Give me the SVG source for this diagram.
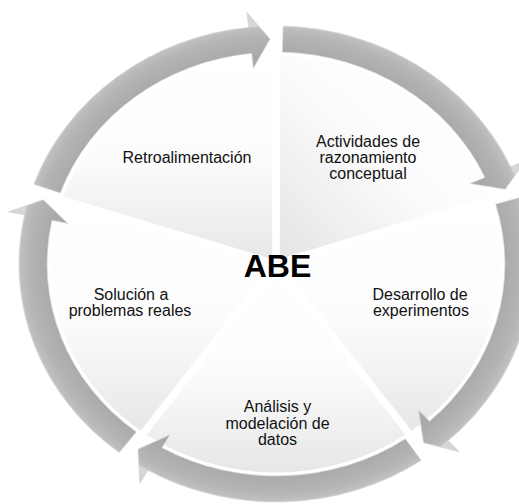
<svg xmlns="http://www.w3.org/2000/svg" xmlns:xlink="http://www.w3.org/1999/xlink" width="519" height="504" viewBox="0 0 519 504">
  <defs>
    <linearGradient id="segV" x1="0" y1="0" x2="0" y2="1">
      <stop offset="0" stop-color="#ffffff"/>
      <stop offset="0.5" stop-color="#fcfcfc"/>
      <stop offset="1" stop-color="#e6e6e6"/>
    </linearGradient>
    <linearGradient id="segD" x1="1" y1="0" x2="0" y2="1">
      <stop offset="0" stop-color="#ffffff"/>
      <stop offset="0.5" stop-color="#fcfcfc"/>
      <stop offset="1" stop-color="#e3e3e3"/>
    </linearGradient>
    <radialGradient id="ringGrad" gradientUnits="userSpaceOnUse" cx="0" cy="0" r="253">
      <stop offset="0.77" stop-color="#a6a6a6"/>
      <stop offset="0.84" stop-color="#ababab"/>
      <stop offset="0.90" stop-color="#b4b4b4"/>
      <stop offset="0.935" stop-color="#bfbfbf"/>
      <stop offset="0.945" stop-color="#d8d8d8"/>
      <stop offset="1" stop-color="#d0d0d0"/>
    </radialGradient>
    <path id="arrow" d="M-224.21,-79.84 A238,238 0 0 1 -25.29,-236.65 L-26.88,-251.57 L-5.50,-224.93 L-20.93,-195.88 L-22.53,-210.80 A212,212 0 0 0 -199.72,-71.12 Z"/>
  </defs>
  <style>
    .seg { stroke: #ffffff; stroke-width: 7; stroke-linejoin: round; }
    .lbl { font-family: "Liberation Sans", Arial, sans-serif; font-size: 16px; fill: #111111; text-anchor: middle; }
    .title { font-family: "Liberation Sans", Arial, sans-serif; font-size: 32px; font-weight: bold; fill: #000000; text-anchor: middle; }
    .arr { fill: url(#ringGrad); stroke: #d4d4d4; stroke-width: 0.6; }
  </style>
  <rect x="0" y="0" width="519" height="504" fill="#ffffff"/>

  <g id="node-actividades">
    <g transform="translate(276,264) scale(1.08,1)">
      <path class="seg" fill="url(#segD)" d="M0,0 L0,-212 A212,212 0 0 1 201.62,-65.51 Z"/>
    </g>
    <text class="lbl"><tspan x="368" y="147">Actividades de</tspan><tspan x="368" y="163">razonamiento</tspan><tspan x="368" y="179">conceptual</tspan></text>
  </g>

  <g id="node-desarrollo">
    <g transform="translate(276,264) scale(1.08,1)">
      <path class="seg" fill="url(#segV)" d="M0,0 L201.62,-65.51 A212,212 0 0 1 124.61,171.51 Z"/>
    </g>
    <text class="lbl"><tspan x="420" y="300">Desarrollo de</tspan><tspan x="421" y="316">experimentos</tspan></text>
  </g>

  <g id="node-analisis">
    <g transform="translate(276,264) scale(1.08,1)">
      <path class="seg" fill="url(#segV)" d="M0,0 L124.61,171.51 A212,212 0 0 1 -124.61,171.51 Z"/>
    </g>
    <text class="lbl"><tspan x="277.5" y="412">Análisis y</tspan><tspan x="277.5" y="428.5">modelación de</tspan><tspan x="277.5" y="445">datos</tspan></text>
  </g>

  <g id="node-solucion">
    <g transform="translate(276,264) scale(1.08,1)">
      <path class="seg" fill="url(#segV)" d="M0,0 L-124.61,171.51 A212,212 0 0 1 -201.62,-65.51 Z"/>
    </g>
    <text class="lbl"><tspan x="131" y="300">Solución a</tspan><tspan x="130" y="316">problemas reales</tspan></text>
  </g>

  <g id="node-retroalimentacion">
    <g transform="translate(276,264) scale(1.08,1)">
      <path class="seg" fill="url(#segV)" d="M0,0 L-201.62,-65.51 A212,212 0 0 1 0,-212 Z"/>
    </g>
    <text class="lbl" x="187" y="163">Retroalimentación</text>
  </g>

  <g id="node-abe">
    <text class="title" x="277.5" y="276.5">ABE</text>
  </g>

  <g id="connectors" transform="translate(276,264) scale(1.08,1)">
    <use xlink:href="#arrow" href="#arrow" class="arr"/>
    <use xlink:href="#arrow" href="#arrow" class="arr" transform="rotate(72)"/>
    <use xlink:href="#arrow" href="#arrow" class="arr" transform="rotate(144)"/>
    <use xlink:href="#arrow" href="#arrow" class="arr" transform="rotate(216)"/>
    <use xlink:href="#arrow" href="#arrow" class="arr" transform="rotate(288)"/>
  </g>
</svg>
